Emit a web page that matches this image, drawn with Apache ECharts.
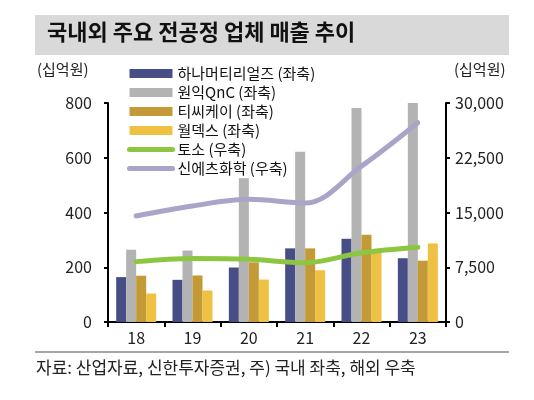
<!DOCTYPE html>
<html><head><meta charset="utf-8">
<script src="https://cdn.jsdelivr.net/npm/echarts@6/dist/echarts.min.js"></script>
<style>html,body{margin:0;padding:0;background:#fff}#c{width:534px;height:400px}</style>
</head><body><div id="c"></div>
<script>
const categories = ['18','19','20','21','22','23'];
const hana = [164, 154, 199, 269, 304, 233];
const wonik = [264, 261, 525, 622, 782, 800];
const tck = [169, 170, 218, 269, 319, 224];
const wldx = [104, 115, 155, 189, 258, 287];
const tosoh = [8270, 8700, 8600, 8120, 9480, 10250];
const shinetsu = [14520, 15900, 16800, 16300, 21350, 27300];
const leftTicks = [0, 200, 400, 600, 800];
const rightTicks = [0, 7500, 15000, 22500, 30000];

const F = '"Noto Sans CJK KR", "Noto Sans", sans-serif';
const chart = echarts.init(document.getElementById('c'));
const barNames = ['하나머티리얼즈 (좌축)', '원익QnC (좌축)', '티씨케이 (좌축)', '월덱스 (좌축)'];
const lineNames = ['토소 (우축)', '신에츠화학 (우축)'];
const barColors = ['#474d85', '#b3b3b3', '#c39a35', '#efc142'];
const lineColors = ['#8dc640', '#aba4c9'];
const barData = [hana, wonik, tck, wldx];
const lineData = [tosoh, shinetsu];

const series = [];
barData.forEach((d, i) => series.push({
  name: barNames[i], type: 'bar', data: d, yAxisIndex: 0,
  barWidth: 10, barGap: '0%', itemStyle: { color: barColors[i] }, z: 2
}));
lineData.forEach((d, i) => series.push({
  name: lineNames[i], type: 'line', data: d, yAxisIndex: 1, smooth: 0.35,
  symbol: 'none', lineStyle: { color: lineColors[i], width: 5, cap: 'round' },
  itemStyle: { color: lineColors[i] }, z: 5
}));

chart.setOption({
  animation: false,
  textStyle: { fontFamily: F },
  grid: { left: 108, right: 88, top: 103, bottom: 78 },
  legend: {
    orient: 'vertical', left: 122, top: 61, itemWidth: 43, itemHeight: 9, itemGap: 4,
    textStyle: { fontSize: 15, color: '#111', fontFamily: F },
    data: barNames.map(n => ({ name: n, icon: 'rect' })).concat(lineNames.map((n, i) => ({
      name: n, itemStyle: { opacity: 0 }, lineStyle: { width: 5, cap: 'round', color: lineColors[i] }
    })))
  },
  xAxis: {
    type: 'category', data: categories,
    axisLine: { lineStyle: { color: '#000', width: 2 } },
    axisTick: { show: true, length: 5, lineStyle: { color: '#000', width: 2 } },
    axisLabel: { fontSize: 16, color: '#222', margin: 8, fontFamily: F }
  },
  yAxis: [
    { type: 'value', min: leftTicks[0], max: leftTicks[leftTicks.length - 1], interval: 200,
      splitLine: { show: false },
      axisLine: { show: true, lineStyle: { color: '#000', width: 2 } },
      axisTick: { show: true, length: 4, lineStyle: { color: '#000', width: 2 } },
      axisLabel: { fontSize: 16, color: '#222', margin: 16, fontFamily: F } },
    { type: 'value', min: rightTicks[0], max: rightTicks[rightTicks.length - 1], interval: 7500,
      splitLine: { show: false },
      axisLine: { show: true, lineStyle: { color: '#000', width: 2 } },
      axisTick: { show: true, length: 4, lineStyle: { color: '#000', width: 2 } },
      axisLabel: { fontSize: 16, color: '#222', margin: 9, fontFamily: F,
        formatter: v => v.toLocaleString('en-US') } }
  ],
  graphic: [
    { type: 'rect', shape: { x: 35, y: 15, width: 474, height: 40 }, style: { fill: '#d9d9d9' }, silent: true },
    { type: 'text', left: 47, top: 21, style: { text: '국내외 주요 전공정 업체 매출 추이', font: 'bold 22px ' + F, fill: '#111' } },
    { type: 'text', left: 37, top: 62, style: { text: '(십억원)', font: '15px ' + F, fill: '#222' } },
    { type: 'text', left: 454, top: 62, style: { text: '(십억원)', font: '15px ' + F, fill: '#222' } },
    { type: 'line', shape: { x1: 35, y1: 352, x2: 509, y2: 352 }, style: { stroke: '#a6a6a6', lineWidth: 2 } },
    { type: 'text', left: 36, top: 359, style: { text: '자료: 산업자료, 신한투자증권, 주) 국내 좌축, 해외 우축', font: '17px ' + F, fill: '#222' } }
  ],
  series: series
});
</script></body></html>
